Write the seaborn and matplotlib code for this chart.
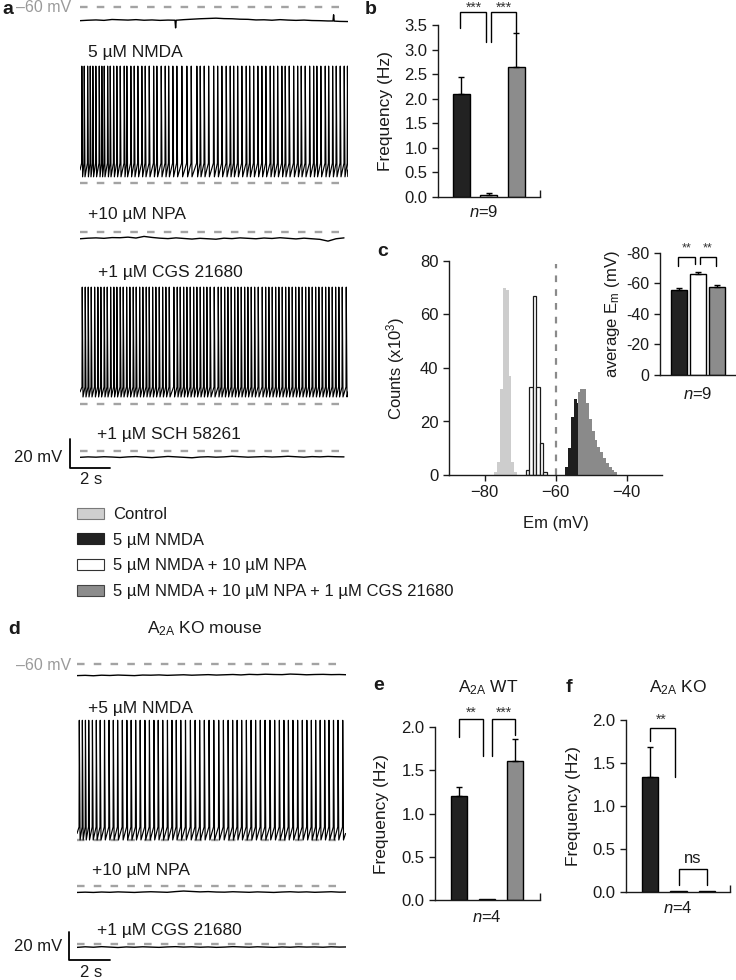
import numpy as np
import pandas as pd
import matplotlib
matplotlib.use("Agg")
import matplotlib.pyplot as plt
import seaborn as sns
from matplotlib.patches import Patch

# ---------------------------------------------------------------- data
conditions = ["NMDA", "NMDA + NPA", "NMDA + NPA + CGS"]
cond_colors = {"NMDA": "#222222", "NMDA + NPA": "#ffffff", "NMDA + NPA + CGS": "#8c8c8c"}

# panel b : firing frequency (Hz), n = 9
b_freq = [2.10, 0.05, 2.65]
b_sem = [0.35, 0.04, 0.68]

# panel c inset : average Em (mV), n = 9
em_mean = [-55.5, -66.0, -57.5]
em_sem = [1.3, 1.4, 1.6]

# panel e : A2A WT, n = 4
e_freq = [1.20, 0.01, 1.61]
e_sem = [0.11, 0.0, 0.25]

# panel f : A2A KO, n = 4
f_freq = [1.34, 0.01, 0.01]
f_sem = [0.34, 0.0, 0.0]

# panel c : Em histograms (counts x10^3), bins given by start / width
hist_labels = ["Control", "5 µM NMDA", "5 µM NMDA + 10 µM NPA",
               "5 µM NMDA + 10 µM NPA + 1 µM CGS 21680"]
ctrl_start, ctrl_width = -77.2, 0.8
ctrl_counts = [1, 5, 32, 70, 69, 37, 5, 1]
npa_start, npa_width = -68.4, 1.0
npa_counts = [2, 33, 67, 33, 12, 1]
nmda_start, nmda_width = -57.2, 0.8
nmda_counts = [3, 10, 21.5, 28.4, 27, 20, 12, 6, 2.5, 1]
cgs_start, cgs_width = -53.8, 0.8
cgs_counts = [31, 32, 32, 27, 21, 16.5, 13, 10.5, 8.5, 6.5, 4.5, 3, 2, 1]

# traces: spike times (s)
a_nmda_spikes = [0.08, 0.2, 0.37, 0.5, 0.63, 0.78, 0.95, 1.08, 1.2, 1.37, 1.5, 1.67, 1.83,
                 2.0, 2.2, 2.33, 2.53, 2.7, 2.88, 3.08, 3.25, 3.45, 3.67, 3.83, 4.05, 4.25,
                 4.42, 4.63, 4.83, 5.08, 5.33, 5.55, 5.83, 6.0, 6.2, 6.42, 6.67, 6.87, 7.08,
                 7.3, 7.5, 7.67, 7.87, 8.08, 8.3, 8.47, 8.67, 8.88, 9.08, 9.28, 9.5, 9.67,
                 9.87, 10.08, 10.25, 10.45, 10.67, 10.87, 11.05, 11.25, 11.47, 11.67, 11.83,
                 12.03, 12.25, 12.42, 12.62, 12.8, 13.0, 13.2, 13.36]
a_cgs_spikes = [0.1, 0.25, 0.4, 0.55, 0.72, 0.88, 1.03, 1.2, 1.35, 1.52, 1.68, 1.83, 2.0,
                2.15, 2.32, 2.48, 2.65, 2.8, 2.97, 3.13, 3.3, 3.45, 3.62, 3.78, 3.95, 4.12,
                4.28, 4.45, 4.68, 4.85, 5.0, 5.17, 5.33, 5.5, 5.67, 5.83, 6.0, 6.17, 6.33,
                6.5, 6.7, 6.9, 7.05, 7.22, 7.38, 7.55, 7.72, 7.88, 8.05, 8.22, 8.38, 8.55,
                8.72, 8.9, 9.1, 9.27, 9.43, 9.6, 9.77, 9.93, 10.1, 10.27, 10.43, 10.6, 10.77,
                10.93, 11.1, 11.27, 11.43, 11.6, 11.77, 11.93, 12.1, 12.27, 12.43, 12.6,
                12.77, 12.93, 13.1, 13.3]
d_nmda_spikes = [0.1, 0.25, 0.4, 0.56, 0.74, 0.93, 1.12, 1.33, 1.55, 1.76, 1.97, 2.2, 2.42,
                 2.63, 2.85, 3.07, 3.3, 3.52, 3.74, 3.95, 4.17, 4.4, 4.62, 4.83, 5.05, 5.28,
                 5.52, 5.75, 5.97, 6.2, 6.43, 6.66, 6.9, 7.13, 7.36, 7.58, 7.8, 8.02, 8.25,
                 8.48, 8.7, 8.93, 9.16, 9.4, 9.63, 9.86, 10.08, 10.3, 10.52, 10.75, 10.98,
                 11.2, 11.42, 11.63, 11.85, 12.07, 12.28, 12.5, 12.72, 12.95]

# spike waveform levels (mV): threshold, peak, after-hyperpolarisation
a_nmda_levels = (-46.5, 19.5, -55.8)
a_cgs_levels = (-48.4, 19.5, -55.2)
d_nmda_levels = (-50.7, 25.5, -60.0)

# control (a) trace with its two small deflections: times (s) and Vm (mV)
a_ctrl_t = [0, 0.4, 0.8, 1.2, 1.6, 2.0, 2.4, 2.8, 3.2, 3.6, 4.0, 4.4, 4.75, 4.78, 4.81,
            5.2, 5.6, 6.0, 6.4, 6.8, 7.2, 7.6, 8.0, 8.4, 8.8, 9.2, 9.6, 10.0, 10.4, 10.8,
            11.2, 11.6, 12.0, 12.4, 12.65, 12.68, 12.71, 13.0, 13.4]
a_ctrl_v = [-69.3, -69.0, -68.8, -69.1, -68.5, -68.7, -68.9, -68.6, -69.0, -68.8, -69.1,
            -68.9, -69.0, -74.2, -69.0, -68.6, -68.3, -68.0, -67.8, -67.6, -67.9, -68.0,
            -68.3, -68.4, -68.8, -68.7, -69.0, -68.6, -68.9, -69.1, -68.9, -69.2, -69.3,
            -69.5, -69.5, -65.3, -69.6, -69.8, -69.9]

# silent traces sampled every 0.4 s (mV)
a_npa_v = [-64.6, -64.2, -64.0, -64.3, -63.8, -63.9, -63.5, -64.1, -63.0, -63.7, -64.2,
           -64.5, -64.0, -64.4, -64.8, -64.3, -64.6, -64.9, -64.2, -64.5, -64.0, -64.3,
           -64.6, -64.1, -64.4, -63.9, -64.3, -64.7, -64.2, -64.6, -65.0, -66.2, -64.6, -64.0]
a_sch_v = [-64.3, -64.0, -64.2, -63.9, -64.1, -64.4, -64.0, -63.8, -64.2, -64.5, -64.1,
           -63.7, -64.0, -64.3, -64.6, -64.1, -63.9, -64.2, -64.0, -63.6, -63.9, -64.2,
           -64.0, -63.8, -64.1, -63.9, -63.6, -63.9, -64.2, -63.8, -64.0, -63.7, -63.9, -64.0]
d_ctrl_v = [-68.3, -68.1, -68.4, -68.0, -68.2, -67.9, -68.1, -68.3, -67.9, -68.0, -67.8,
            -68.1, -67.9, -67.7, -68.0, -67.8, -67.6, -67.9, -67.7, -67.5, -67.8, -67.4,
            -67.6, -67.3, -67.5, -67.6, -67.2, -67.4, -67.7, -67.5, -67.4, -67.6, -67.5, -67.7]
d_npa_v = [-64.6, -64.4, -64.6, -64.3, -64.5, -64.2, -64.4, -64.6, -64.3, -64.1, -64.3,
           -64.5, -64.0, -63.6, -63.9, -64.2, -64.0, -64.3, -64.4, -64.1, -64.3, -64.5,
           -64.2, -64.4, -64.6, -64.3, -64.1, -64.4, -64.2, -64.5, -64.3, -64.1, -64.4, -64.3]
d_cgs_v = [-62.4, -62.0, -62.3, -61.9, -62.2, -62.5, -62.1, -62.3, -62.0, -62.2, -62.4,
           -62.1, -61.9, -62.2, -62.0, -62.3, -62.1, -62.4, -62.2, -61.9, -62.1, -62.3,
           -62.0, -62.2, -62.4, -62.1, -62.3, -62.0, -62.2, -62.1, -62.3, -62.0, -62.2, -62.1]
silent_dt = 0.4

# ---------------------------------------------------------------- style
sns.set_theme(style="ticks", rc={
    "axes.linewidth": 1.0, "axes.edgecolor": "#1a1a1a",
    "xtick.major.width": 1.0, "ytick.major.width": 1.0,
    "xtick.major.size": 4, "ytick.major.size": 4,
    "text.color": "#1a1a1a", "axes.labelcolor": "#1a1a1a",
    "xtick.color": "#1a1a1a", "ytick.color": "#1a1a1a",
})
plt.rcParams["font.family"] = ["Liberation Sans", "DejaVu Sans"]
plt.rcParams["mathtext.fontset"] = "custom"
plt.rcParams["mathtext.rm"] = "Liberation Sans"
plt.rcParams["mathtext.it"] = "Liberation Sans:italic"
plt.rcParams["mathtext.bf"] = "Liberation Sans:bold"

W, H = 736, 980
fig = plt.figure(figsize=(W / 100, H / 100), dpi=100)


def axp(x0, y0, x1, y1):
    return fig.add_axes([x0 / W, 1 - y1 / H, (x1 - x0) / W, (y1 - y0) / H])


def ftext(x, y, s, **kw):
    kw.setdefault("va", "center")
    kw.setdefault("ha", "left")
    fig.text(x / W, 1 - y / H, s, **kw)


REF_COLOR = "#a3a3a3"


def trace_axes(x0, x1, top, bottom, ref, px_mv, px_s):
    ax = axp(x0, top, x1, bottom)
    ax.set_xlim(0, (x1 - x0) / px_s)
    ax.set_ylim(-60 - (bottom - ref) / px_mv, -60 + (ref - top) / px_mv)
    ax.axis("off")
    ax.plot([0.0, (x1 - x0 - 3) / px_s], [-60, -60], color=REF_COLOR, lw=1.7,
            linestyle=(0, (3.2, 3.9)))
    return ax


def spike_waveform(spikes, t_end, levels):
    thr, peak, ahp = levels
    xs, ys = [0.0], [0.5 * (thr + ahp)]
    for t in spikes:
        xs += [t, t + 0.012, t + 0.05]
        ys += [thr, peak, ahp]
    xs.append(t_end)
    ys.append(0.5 * (thr + ahp))
    return xs, ys


def draw_trace(ax, t, v, lw=1.0):
    sns.lineplot(x=t, y=v, ax=ax, color="black", lw=lw, estimator=None, sort=False)


def silent_times(v):
    return list(np.arange(len(v)) * silent_dt)


# ---------------------------------------------------------------- panel a traces
PXS_A, PXMV_A = 20.0, 1.47
ax = trace_axes(80, 348, 0, 32, 7, PXMV_A, PXS_A)
draw_trace(ax, a_ctrl_t, a_ctrl_v)
ax = trace_axes(80, 348, 58, 190, 183, PXMV_A, PXS_A)
xs, ys = spike_waveform(a_nmda_spikes, 13.4, a_nmda_levels)
draw_trace(ax, xs, ys, lw=0.85)
ax = trace_axes(80, 348, 222, 250, 232, PXMV_A, PXS_A)
draw_trace(ax, silent_times(a_npa_v), a_npa_v)
ax = trace_axes(80, 348, 280, 410, 404, PXMV_A, PXS_A)
xs, ys = spike_waveform(a_cgs_spikes, 13.4, a_cgs_levels)
draw_trace(ax, xs, ys, lw=0.85)
ax = trace_axes(80, 348, 440, 470, 451, PXMV_A, PXS_A)
draw_trace(ax, silent_times(a_sch_v), a_sch_v)
# scale bar 20 mV / 2 s
ax.plot([-0.5, -0.5, 1.5], [-71.6 + 20, -71.6, -71.6], color="black", lw=1.3, clip_on=False)

ftext(2, 9, "a", fontsize=14, fontweight="bold")
ftext(16, 8, "–60 mV", fontsize=11.5, color="#9a9a9a")
ftext(88, 53, "5 µM NMDA", fontsize=12.5)
ftext(88, 215, "+10 µM NPA", fontsize=12.5)
ftext(98, 272, "+1 µM CGS 21680", fontsize=12.5)
ftext(97, 435, "+1 µM SCH 58261", fontsize=12.5)
ftext(62, 457, "20 mV", fontsize=12, ha="right")
ftext(80, 479, "2 s", fontsize=12)

# ---------------------------------------------------------------- legend
handles = [Patch(facecolor="#cfcfcf", edgecolor="#7a7a7a", lw=0.8, label=hist_labels[0]),
           Patch(facecolor="#222222", edgecolor="#222222", lw=0.8, label=hist_labels[1]),
           Patch(facecolor="#ffffff", edgecolor="#333333", lw=0.8, label=hist_labels[2]),
           Patch(facecolor="#8c8c8c", edgecolor="#444444", lw=0.8, label=hist_labels[3])]
fig.legend(handles=handles, loc="upper left", bbox_to_anchor=(77 / W, 1 - 507 / H),
           frameon=False, fontsize=12, handlelength=1.62, handleheight=0.62,
           labelspacing=0.64, handletextpad=0.55, borderaxespad=0, borderpad=0)


# ---------------------------------------------------------------- bar helpers
def bar_panel(ax, values, sems, width, ylim, yticks, xlim, fmt="{:.1f}"):
    df = pd.DataFrame({"cond": conditions, "value": values})
    sns.barplot(data=df, x="cond", y="value", hue="cond", order=conditions,
                hue_order=conditions, palette=cond_colors, width=width, saturation=1,
                edgecolor="black", linewidth=1.0, errorbar=None, legend=False, ax=ax)
    for i, (v, s) in enumerate(zip(values, sems)):
        if s > 0:
            lo = s if v < 0 else 0
            hi = 0 if v < 0 else s
            ax.errorbar([i], [v], yerr=[[lo], [hi]], fmt="none", ecolor="black",
                        elinewidth=1.0, capsize=2.5, capthick=1.0)
    ax.set_xlim(*xlim)
    ax.set_ylim(*ylim)
    ax.set_yticks(yticks)
    ax.set_yticklabels([fmt.format(t) for t in yticks], fontsize=12)
    ax.set_xticks([xlim[1] - 0.01])
    ax.set_xticklabels([""])
    ax.tick_params(axis="x", direction="in", length=5)
    ax.set_xlabel("")
    sns.despine(ax=ax)


def bracket(ax, x0, x1, top, low0, low1, text, tx, ty, size=10, color="#333333"):
    ax.plot([x0, x0, x1, x1], [low0, top, top, low1], color="black", lw=1.0,
            clip_on=False, solid_joinstyle="miter")
    ax.text(tx, ty, text, ha="center", va="center", fontsize=size, color=color,
            clip_on=False)


# ---------------------------------------------------------------- panel b
axb = axp(438, 25, 540, 197)
bar_panel(axb, b_freq, b_sem, 0.62, (0, 3.5), np.arange(0, 3.51, 0.5), (-0.84, 2.87))
axb.set_ylabel("Frequency (Hz)", fontsize=12.5, labelpad=8)
bracket(axb, -0.03, 0.9, 3.76, 3.43, 3.16, "***", 0.45, 3.85)
bracket(axb, 1.09, 2.0, 3.76, 3.16, 3.34, "***", 1.55, 3.85)
ftext(365, 10, "b", fontsize=14, fontweight="bold")
ftext(484, 212, "$n$=9", fontsize=12, ha="center")

# ---------------------------------------------------------------- panel c histogram
axc = axp(449, 261, 662, 475)
hist_specs = [
    (ctrl_start, ctrl_width, ctrl_counts, dict(color="#cdcdcd", edgecolor="none", linewidth=0)),
    (npa_start, npa_width, npa_counts, dict(color="#ffffff", edgecolor="#1a1a1a", linewidth=0.9)),
    (nmda_start, nmda_width, nmda_counts, dict(color="#1e1e1e", edgecolor="none", linewidth=0)),
    (cgs_start, cgs_width, cgs_counts, dict(color="#8a8a8a", edgecolor="none", linewidth=0)),
]
for start, width, counts, style in hist_specs:
    edges = [start + width * k for k in range(len(counts) + 1)]
    centers = [0.5 * (edges[k] + edges[k + 1]) for k in range(len(counts))]
    hdf = pd.DataFrame({"em": centers, "count": counts})
    sns.histplot(data=hdf, x="em", weights="count", bins=edges, stat="count",
                 element="bars", fill=True, alpha=1, ax=axc, **style)
axc.plot([-60, -60], [0, 79], color="#8a8a8a", lw=1.6, linestyle=(0, (3, 3.2)))
axc.set_xlim(-90, -30)
axc.set_ylim(0, 80)
axc.set_xticks([-80, -60, -40])
axc.set_xticklabels(["\u221280", "\u221260", "\u221240"], fontsize=12)
axc.set_yticks([0, 20, 40, 60, 80])
axc.set_yticklabels(["0", "20", "40", "60", "80"], fontsize=12)
axc.set_xlabel("Em (mV)", fontsize=12, labelpad=11)
axc.set_ylabel("Counts (x10$^3$)", fontsize=12, labelpad=9)
sns.despine(ax=axc)
ftext(377, 252, "c", fontsize=14, fontweight="bold")

# inset: average Em
axi = axp(660, 252.7, 736, 375)
bar_panel(axi, em_mean, em_sem, 0.82, (0, -80), [0, -20, -40, -60, -80], (-1.0, 3.0), fmt="{:.0f}")
axi.set_xticks([])
axi.set_yticklabels(["0", "-20", "-40", "-60", "-80"], fontsize=11.5)
axi.set_ylabel("average E$_\\mathrm{m}$ (mV)", fontsize=12, labelpad=3)
bracket(axi, -0.05, 0.85, -77.5, -71, -72.5, "**", 0.4, -82.5, size=9)
bracket(axi, 1.1, 1.95, -77.5, -72.5, -71, "**", 1.5, -82.5, size=9)
ftext(698, 394, "$n$=9", fontsize=12, ha="center")

# ---------------------------------------------------------------- panel d traces
PXS_D, PXMV_D = 20.5, 1.4
ax = trace_axes(77, 346, 655, 685, 664, PXMV_D, PXS_D)
draw_trace(ax, silent_times(d_ctrl_v), d_ctrl_v)
ax = trace_axes(77, 346, 712, 848, 840, PXMV_D, PXS_D)
xs, ys = spike_waveform(d_nmda_spikes, 13.1, d_nmda_levels)
draw_trace(ax, xs, ys, lw=0.85)
ax = trace_axes(77, 346, 876, 902, 886, PXMV_D, PXS_D)
draw_trace(ax, silent_times(d_npa_v), d_npa_v)
ax = trace_axes(77, 346, 934, 962, 944, PXMV_D, PXS_D)
draw_trace(ax, silent_times(d_cgs_v), d_cgs_v)
ax.plot([-0.39, -0.39, 1.61], [-71.4 + 20, -71.4, -71.4], color="black", lw=1.3, clip_on=False)

ftext(8, 629, "d", fontsize=14, fontweight="bold")
ftext(147, 629, "A$_\\mathrm{2A}$ KO mouse", fontsize=12.5)
ftext(16, 665, "–60 mV", fontsize=11.5, color="#9a9a9a")
ftext(88, 708, "+5 µM NMDA", fontsize=12.5)
ftext(92, 870, "+10 µM NPA", fontsize=12.5)
ftext(97, 930, "+1 µM CGS 21680", fontsize=12.5)
ftext(62, 946, "20 mV", fontsize=12, ha="right")
ftext(80, 972, "2 s", fontsize=12)

# ---------------------------------------------------------------- panel e
axe = axp(435, 727.3, 540, 900)
bar_panel(axe, e_freq, e_sem, 0.58, (0, 2.0), np.arange(0, 2.01, 0.5), (-0.85, 2.876))
axe.set_ylabel("Frequency (Hz)", fontsize=12.5, labelpad=9)
bracket(axe, 0.0, 0.86, 2.1, 1.89, 1.67, "**", 0.45, 2.17)
bracket(axe, 1.16, 2.0, 2.1, 1.67, 1.91, "***", 1.6, 2.17)
ftext(373, 685, "e", fontsize=14, fontweight="bold")
ftext(488, 688, "A$_\\mathrm{2A}$ WT", fontsize=12.5, ha="center")
ftext(487, 917, "$n$=4", fontsize=12, ha="center")

# ---------------------------------------------------------------- panel f
axf = axp(625.7, 720, 730, 891.7)
bar_panel(axf, f_freq, f_sem, 0.58, (0, 2.0), np.arange(0, 2.01, 0.5), (-0.85, 2.81))
axf.set_ylabel("Frequency (Hz)", fontsize=12.5, labelpad=8)
bracket(axf, 0.0, 0.88, 1.91, 1.75, 1.34, "**", 0.41, 2.0)
bracket(axf, 1.03, 1.99, 0.26, 0.08, 0.08, "ns", 1.5, 0.39, size=12, color="#1a1a1a")
ftext(566, 687, "f", fontsize=14, fontweight="bold")
ftext(678, 688, "A$_\\mathrm{2A}$ KO", fontsize=12.5, ha="center")
ftext(678, 908, "$n$=4", fontsize=12, ha="center")

fig.savefig("out.png", dpi=100)
